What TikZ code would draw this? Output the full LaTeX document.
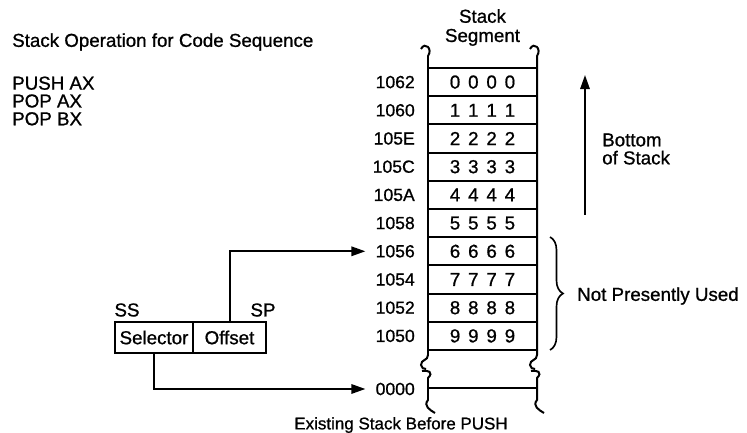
\documentclass[tikz,border=0pt]{standalone}
\usepackage{fontspec}
\setmainfont{Liberation Sans}[BoldFont={Liberation Sans}, BoldFeatures={FakeBold=0.9}]
\usepackage{tikz}
\usetikzlibrary{arrows.meta,decorations.pathreplacing,positioning}

\newcommand{\cellval}[1]{#1\hspace{.42em}#1\hspace{.42em}#1\hspace{.42em}#1}

\begin{document}
\begin{tikzpicture}[x=0.03cm,y=0.03cm,
    testo/.style={inner sep=0pt, font=\fontsize{16}{15.2}\selectfont\bfseries},
    addr/.style={inner sep=0pt, anchor=east, font=\fontsize{15}{15}\selectfont\bfseries},
    cella/.style={draw, line width=1.7pt, inner sep=0pt, outer sep=0pt,
      minimum width=3.27cm, minimum height=0.846cm,
      font=\fontsize{16}{16}\selectfont\bfseries},
    regbox/.style={draw, line width=1.7pt, inner sep=0pt, outer sep=0pt,
      minimum height=0.93cm, font=\fontsize{16}{16}\selectfont\bfseries},
    wall/.style={line width=1.7pt},
    freccia/.style={line width=1.7pt, -{Triangle[length=12pt,width=8pt]}}]
    \useasboundingbox (0,0) rectangle (747,-433);

    % Titolo e codice
    \node[testo, anchor=west] (tit) at (12,-42) {Stack Operation for Code Sequence};
    \node[testo, anchor=west, align=left] (code) at (12,-101)
      {PUSH AX\\POP AX\\POP BX};

    % Segmento stack
    \node[testo, align=center, font=\fontsize{16}{16.4}\selectfont\bfseries] (seg)
      at (482.5,-27.5) {Stack\\Segment};
    \node[cella] (c0) at (482.5,-82.1) {\cellval{0}};
    \node[cella] (c1) at (482.5,-110.3) {\cellval{1}};
    \node[cella] (c2) at (482.5,-138.5) {\cellval{2}};
    \node[cella] (c3) at (482.5,-166.7) {\cellval{3}};
    \node[cella] (c4) at (482.5,-194.9) {\cellval{4}};
    \node[cella] (c5) at (482.5,-223.1) {\cellval{5}};
    \node[cella] (c6) at (482.5,-251.3) {\cellval{6}};
    \node[cella] (c7) at (482.5,-279.5) {\cellval{7}};
    \node[cella] (c8) at (482.5,-307.7) {\cellval{8}};
    \node[cella] (c9) at (482.5,-335.9) {\cellval{9}};

    % Indirizzi
    \node[addr] (a0) at (415,-82.1) {1062};
    \node[addr] (a1) at (415,-110.3) {1060};
    \node[addr] (a2) at (415,-138.5) {105E};
    \node[addr] (a3) at (415,-166.7) {105C};
    \node[addr] (a4) at (415,-194.9) {105A};
    \node[addr] (a5) at (415,-223.1) {1058};
    \node[addr] (a6) at (415,-251.3) {1056};
    \node[addr] (a7) at (415,-279.5) {1054};
    \node[addr] (a8) at (415,-307.7) {1052};
    \node[addr] (a9) at (415,-335.9) {1050};
    \node[addr] (z) at (415,-389) {0000};

    % Pareti con interruzioni
    \draw[wall] (421,-49) .. controls (425,-41) and (433,-49) .. (428,-56)
      -- (428,-355) .. controls (428,-361) and (421,-359) .. (421,-365)
      .. controls (421,-368) and (424,-369) .. (426,-369);
    \draw[wall] (422,-371) .. controls (428,-370) and (434,-372) .. (428,-378)
      -- (428,-400) .. controls (423,-406) and (430,-410) .. (435,-413);
    \draw[wall] (530,-49) .. controls (534,-41) and (542,-49) .. (537,-56)
      -- (537,-355) .. controls (537,-361) and (530,-359) .. (530,-365)
      .. controls (530,-368) and (533,-369) .. (535,-369);
    \draw[wall] (531,-371) .. controls (537,-370) and (543,-372) .. (537,-378)
      -- (537,-400) .. controls (532,-406) and (539,-410) .. (544,-413);
    \draw[wall] (428,-388) -- (537,-388);

    % Registri SS:SP
    \node[regbox, minimum width=2.34cm] (sel) at (154,-337.5) {Selector};
    \node[regbox, minimum width=2.19cm, right=0pt of sel] (off) {Offset};
    \node[testo] (ss) at (127,-310) {SS};
    \node[testo] (sp) at (263,-310) {SP};
    \draw[freccia, shorten >=3mm] (off.north) |- (a6.west);
    \draw[freccia, shorten >=3mm] (sel.south) |- (z.west);

    % Fondo dello stack
    \coordinate (bs) at (585,-215);
    \coordinate (bt) at (585,-75);
    \draw[freccia] (bs) -- (bt);
    \node[testo, anchor=west, align=left, font=\fontsize{16}{15.4}\selectfont\bfseries]
      (fondo) at (602,-149) {Bottom\\of Stack};

    % Parte non usata
    \coordinate (bra) at (550,-237);
    \coordinate (brb) at (550,-350);
    \draw[line width=1.4pt, decorate, decoration={brace, amplitude=0.39cm}]
      (bra) -- (brb);
    \node[testo, anchor=west] (nu) at (577,-296) {Not Presently Used};

    % Didascalia
    \node[testo, font=\fontsize{14.5}{14.5}\selectfont\bfseries] (cap) at (401,-425)
      {Existing Stack Before PUSH};
  \end{tikzpicture}
\end{document}
